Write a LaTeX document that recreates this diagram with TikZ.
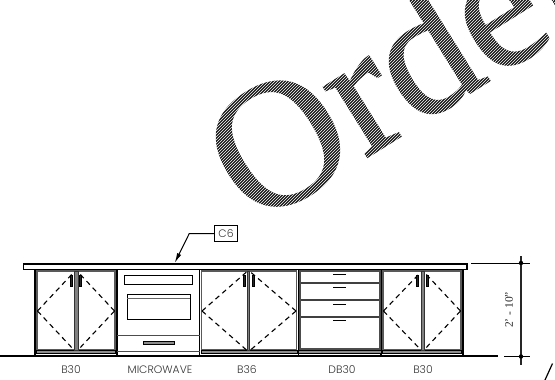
\documentclass[tikz,border=0pt]{standalone}
\usetikzlibrary{arrows.meta}
\usepackage{fontspec}
\setmainfont{Liberation Serif}
\newfontfamily\capsfont{Poppins Light}
\newfontfamily\markfont[FakeBold=0.9]{Liberation Serif}
\begin{document}
\begin{tikzpicture}[x=1pt, y=-1pt, line cap=butt,
        hatch/.style={draw=white, line width=0.6pt},
        frame/.style={draw, line width=1.3pt},
        door/.style={draw=black!65, line width=1.5pt},
        band/.style={draw, line width=0.7pt, fill=black!45},
        stile/.style={draw=black!80, line width=0.6pt, fill=black!50},
        panel/.style={draw, line width=0.8pt, fill=white},
        swing/.style={draw, line width=1.1pt, dash pattern=on 5pt off 4pt},
        grip/.style={draw=black, line width=0.4pt, fill=black!85},
        pull/.style={draw=black, line width=1.3pt},
        cabtag/.style={font=\capsfont\fontsize{10.8}{12}\selectfont, text=black!80, inner sep=0pt}]
        \useasboundingbox (0,0) rectangle (555,380);

        % watermark
        \node[rotate=32, anchor=base west, inner sep=0pt, text=black!90, font=\markfont\fontsize{180}{180}\selectfont] (order) at (254,228) {Order};
        \begin{scope}
        \clip (190,0) rectangle (555,215);
        \foreach \i in {0,...,230} {
                \draw[hatch] (-30+3*\i,215) -- ++(215,-215);
        }
        \end{scope}

        % counter top and floor
        \draw[line width=1.3pt] (0,356) -- (498,356);
        \draw[line width=1.3pt, fill=white] (23.5,264) rectangle (467,269.5);
        \draw[line width=2pt] (23,263.5) -- (467.5,263.5);

        % carcass
        \draw[frame] (35,269.5) -- (35,356);\draw[frame] (117,269.5) -- (117,356);\draw[frame] (199.5,269.5) -- (199.5,356);
        \draw[frame] (298.5,269.5) -- (298.5,356);\draw[frame] (381,269.5) -- (381,356);\draw[frame] (463,269.5) -- (463,356);

        % doors B30
        \begin{scope}[xshift=35pt]
        \draw[door] (2,271) rectangle (80,350);
        \draw[band] (1.5,350) rectangle (80.5,353);
        \draw[stile] (39.5,271) rectangle (43,350);
        \draw[swing] (2.5,311) -- (39,272);\draw[swing] (2.5,311) -- (39,350);
        \draw[swing] (79.5,311) -- (43,272);\draw[swing] (79.5,311) -- (43,350);
        \draw[grip] (35.5,275) rectangle (37.5,286);\draw[grip] (44.5,275) rectangle (46.5,286);
        \end{scope}

        % microwave
        \draw[panel] (124.7,275) rectangle (192.7,284.3);
        \draw[panel] (127,294.7) rectangle (190,319);
        \draw[line width=0.7pt, draw=black!60] (127,298.3) -- (190,298.3);
        \draw[line width=1pt, draw=black!70] (117,335) -- (199.5,335);
        \draw[band] (143.3,341.7) rectangle (174.3,344.7);
        \draw[line width=1pt, draw=black!70] (117,351.5) -- (199.5,351.5);

        % doors B36
        \begin{scope}[xshift=199.5pt]
        \draw[door] (2,271) rectangle (97,350);
        \draw[band] (1.5,350) rectangle (97.5,353);
        \draw[stile] (47.5,271) rectangle (50,350);
        \draw[swing] (2.5,311) -- (47,272);\draw[swing] (2.5,311) -- (47,350);
        \draw[swing] (96.5,311) -- (51,272);\draw[swing] (96.5,311) -- (51,350);
        \draw[grip] (43.5,275) rectangle (45.5,286);\draw[grip] (52.5,275) rectangle (54.5,286);
        \end{scope}

        % drawers
        \draw[line width=2.2pt, draw=black!70] (300.2,271) rectangle (379.8,349.5);
        \draw[band] (298.5,350) rectangle (381,353);
        \draw[line width=1.8pt, draw=black!75] (301,283.3) -- (379,283.3);\draw[line width=1.8pt, draw=black!75] (301,300) -- (379,300);\draw[line width=1.8pt, draw=black!75] (301,316.7) -- (379,316.7);
        \draw[pull] (333.3,274.7) -- (345.7,274.7);\draw[pull] (333.3,287.7) -- (345.7,287.7);
        \draw[pull] (333.3,304.3) -- (345.7,304.3);\draw[pull] (333.3,320.7) -- (345.7,320.7);

        % doors B30
        \begin{scope}[xshift=381pt]
        \draw[door] (2,271) rectangle (80,350);
        \draw[band] (1.5,350) rectangle (80.5,353);
        \draw[stile] (40.5,271) rectangle (43,350);
        \draw[swing] (2.5,311) -- (40,272);\draw[swing] (2.5,311) -- (40,350);
        \draw[swing] (79.5,311) -- (43,272);\draw[swing] (79.5,311) -- (43,350);
        \draw[grip] (35.5,275) rectangle (37.5,286);\draw[grip] (45,275) rectangle (47,286);
        \end{scope}

        % labels
        \node[cabtag] (b1) at (71,370) {B30};
        \node[cabtag] (mw) at (160,370) {MICROWAVE};
        \node[cabtag] (b2) at (247,370) {B36};
        \node[cabtag] (db) at (342,370) {DB30};
        \node[cabtag] (b3) at (423,370) {B30};

        % leader
        \node[draw, line width=1pt, cabtag, minimum width=22.5pt, minimum height=16pt] (c6) at (226,233.5) {C6};
        \coordinate (bend) at (189.3,233.5);
        \coordinate (tip) at (174.7,263);
        \draw[line width=1pt, -{Latex[length=10pt,width=4.5pt]}] (c6.west) -- (bend) -- (tip);

        % dimension
        \coordinate (dimtop) at (521,263);
        \coordinate (dimbot) at (521,356.5);
        \draw[line width=0.6pt] (471,263) -- (530,263);
        \draw[line width=0.6pt] (504,356.5) -- (530,356.5);
        \draw[line width=1.1pt, draw=black!85] (521,256) -- (dimtop) -- (dimbot) -- (521,365);
        \fill (dimtop) circle (2.2pt);\fill (dimbot) circle (2.2pt);
        \node[rotate=90, inner sep=0pt, text=black!85, font=\fontsize{11.5}{12}\selectfont] (dimtext) at (509,310) {2' - 10"};

        % section mark
        \draw[line width=1.2pt] (545,380) -- (552.5,363.5);
\end{tikzpicture}
\end{document}
